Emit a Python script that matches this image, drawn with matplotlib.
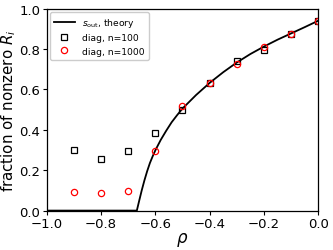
import matplotlib
matplotlib.use("Agg")
import matplotlib.pyplot as plt

# theory curve
rho_theory = [-1.0, -0.668, -0.66, -0.65, -0.64, -0.63, -0.62, -0.61, -0.60, -0.58,
              -0.56, -0.54, -0.52, -0.50, -0.45, -0.40, -0.35, -0.30, -0.25,
              -0.20, -0.15, -0.10, -0.05, 0.0]
s_theory = [0.0, 0.0, 0.045, 0.10, 0.15, 0.195, 0.235, 0.268, 0.298, 0.35,
            0.395, 0.437, 0.472, 0.505, 0.572, 0.632, 0.685, 0.733, 0.775,
            0.812, 0.846, 0.877, 0.908, 0.94]

rho_diag = [-0.9, -0.8, -0.7, -0.6, -0.5, -0.4, -0.3, -0.2, -0.1, 0.0]
diag_n100 = [0.30, 0.257, 0.297, 0.386, 0.50, 0.632, 0.74, 0.796, 0.874, 0.94]
diag_n1000 = [0.091, 0.088, 0.095, 0.297, 0.517, 0.632, 0.726, 0.808, 0.876, 0.94]

fig = plt.figure(figsize=(3.33, 2.51), dpi=100)
ax = fig.add_axes([0.140, 0.157, 0.816, 0.805])

ax.plot(rho_theory, s_theory, color="black", lw=1.3, label=r"$s_{\rm out}$, theory")
ax.plot(rho_diag, diag_n100, "s", mfc="none", mec="black", ms=4.5, mew=0.9,
        label="diag, n=100")
ax.plot(rho_diag, diag_n1000, "o", mfc="none", mec="red", ms=4.5, mew=0.9,
        label="diag, n=1000")

ax.set_xlim(-1.0, 0.0)
ax.set_ylim(0.0, 1.0)
ax.set_xticks([-1.0, -0.8, -0.6, -0.4, -0.2, 0.0])
ax.set_yticks([0.0, 0.2, 0.4, 0.6, 0.8, 1.0])
ax.tick_params(labelsize=9.5, length=3, pad=1.5)
ax.set_xlabel(r"$\rho$", fontsize=12, labelpad=0)
ax.set_ylabel(r"fraction of nonzero $R_i$", fontsize=10.8, labelpad=1)
for sp in ax.spines.values():
    sp.set_linewidth(0.9)

ax.legend(loc="upper left", fontsize=6.6, handlelength=2.2, borderpad=0.45,
          labelspacing=0.45, borderaxespad=0.4, framealpha=1.0)

fig.savefig("out.png", dpi=100)
